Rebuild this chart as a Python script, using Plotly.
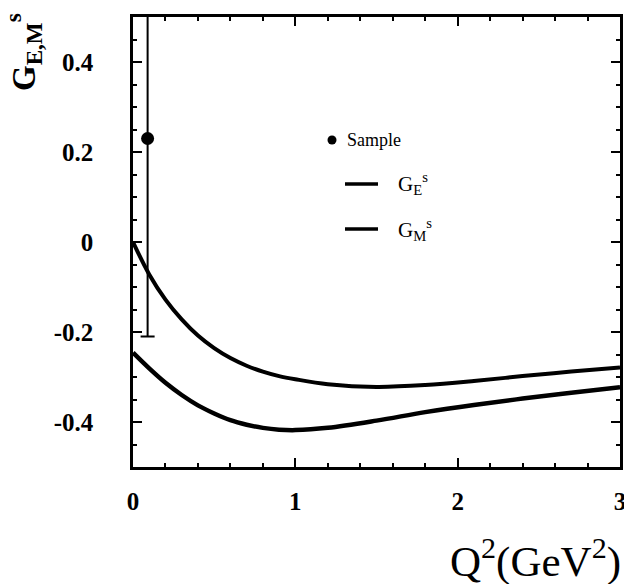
import plotly.graph_objects as go

# Data
q2 = [0.0, 0.1, 0.2, 0.3, 0.4, 0.5, 0.6, 0.7, 0.8, 0.9, 1.0, 1.2, 1.5, 1.8, 2.1, 2.4, 2.7, 3.0]
ge_s = [0.0, -0.072, -0.128, -0.172, -0.208, -0.236, -0.258, -0.275, -0.288, -0.298, -0.305,
        -0.316, -0.322, -0.318, -0.309, -0.298, -0.288, -0.279]
gm_s = [-0.246, -0.281, -0.313, -0.340, -0.363, -0.381, -0.396, -0.406, -0.413, -0.417, -0.418,
        -0.413, -0.397, -0.378, -0.362, -0.348, -0.335, -0.323]

sample_x = [0.09]
sample_y = [0.23]
sample_err = [0.44]

xtick_vals = [0, 1, 2, 3]
xtick_text = ["0", "1", "2", "3"]
ytick_vals = [-0.4, -0.2, 0, 0.2, 0.4]
ytick_text = ["-0.4", "-0.2", "0", "0.2", "0.4"]

SERIF = "Liberation Serif, Times New Roman, serif"

fig = go.Figure()
fig.add_trace(go.Scatter(x=q2, y=ge_s, mode="lines", line=dict(color="black", width=4, shape="spline", smoothing=1.0),
                         showlegend=False))
fig.add_trace(go.Scatter(x=q2, y=gm_s, mode="lines", line=dict(color="black", width=4.5, shape="spline", smoothing=1.0),
                         showlegend=False))
fig.add_trace(go.Scatter(x=sample_x, y=sample_y, mode="markers",
                         marker=dict(color="black", size=13),
                         error_y=dict(type="data", array=sample_err, color="black", thickness=2, width=7),
                         showlegend=False, cliponaxis=True))

axis_common = dict(showline=True, linecolor="black", linewidth=2.5, mirror="allticks",
                   ticks="inside", ticklen=9, tickwidth=2, tickcolor="black",
                   showgrid=False, zeroline=False, automargin=False,
                   ticklabeloverflow="allow",
                   tickfont=dict(family=SERIF, size=25, color="black", weight="bold"))

fig.update_xaxes(range=[0, 3], tickmode="array", tickvals=xtick_vals, ticktext=xtick_text,
                 minor=dict(ticks="inside", dtick=0.2, tick0=0, ticklen=4, tickwidth=1.5, tickcolor="black"),
                 ticklabelstandoff=10, **axis_common)
fig.update_yaxes(range=[-0.5, 0.5], tickmode="array", tickvals=ytick_vals, ticktext=ytick_text,
                 minor=dict(ticks="inside", dtick=0.05, tick0=0, ticklen=4, tickwidth=1.5, tickcolor="black"),
                 ticklabelstandoff=32, **axis_common)


def px2paper(px, py):
    return (px - 133) / 487.0, (467 - py) / 450.0


anns = []
ya_x, ya_y = px2paper(24, 52)
anns.append(dict(text="G<sub>E,M</sub><sup>s</sup>", x=ya_x, y=ya_y, xref="paper", yref="paper",
                 showarrow=False, textangle=-90, xanchor="center", yanchor="middle",
                 font=dict(family=SERIF, size=33, color="black", weight="bold")))
xa_x, xa_y = px2paper(623, 558)
anns.append(dict(text="Q<sup>2</sup>(GeV<sup>2</sup>)", x=xa_x, y=xa_y, xref="paper", yref="paper",
                 showarrow=False, xanchor="right", yanchor="middle",
                 font=dict(family=SERIF, size=43, color="black")))

# legend built from shapes and text
shapes = []
dx, dy = px2paper(332, 140)
shapes.append(dict(type="circle", xref="paper", yref="paper",
                   x0=dx - 4.5 / 487, x1=dx + 4.5 / 487, y0=dy - 4.5 / 450, y1=dy + 4.5 / 450,
                   fillcolor="black", line=dict(color="black", width=0)))
for py in (184, 229):
    x0, y0 = px2paper(345, py)
    x1, _ = px2paper(378, py)
    shapes.append(dict(type="line", xref="paper", yref="paper", x0=x0, x1=x1, y0=y0, y1=y0,
                       line=dict(color="black", width=3.5)))

legend_texts = [("Sample", 345, 140, 18), ("G<sub>E</sub><sup>s</sup>", 396, 184, 21),
                ("G<sub>M</sub><sup>s</sup>", 396, 229, 21)]
for t, px, py, fs in legend_texts:
    x, y = px2paper(px, py)
    anns.append(dict(text=t, x=x, y=y, xref="paper", yref="paper", showarrow=False,
                     xanchor="left", yanchor="middle",
                     font=dict(family=SERIF, size=fs, color="black")))

fig.update_layout(width=624, height=584, margin=dict(l=133, r=4, t=17, b=117, autoexpand=False),
                  paper_bgcolor="white", plot_bgcolor="white",
                  annotations=anns, shapes=shapes, showlegend=False)

fig.write_html("out.html", config={"displayModeBar": False},
               post_script="document.body.style.margin='0px';document.body.style.overflow='hidden';")
